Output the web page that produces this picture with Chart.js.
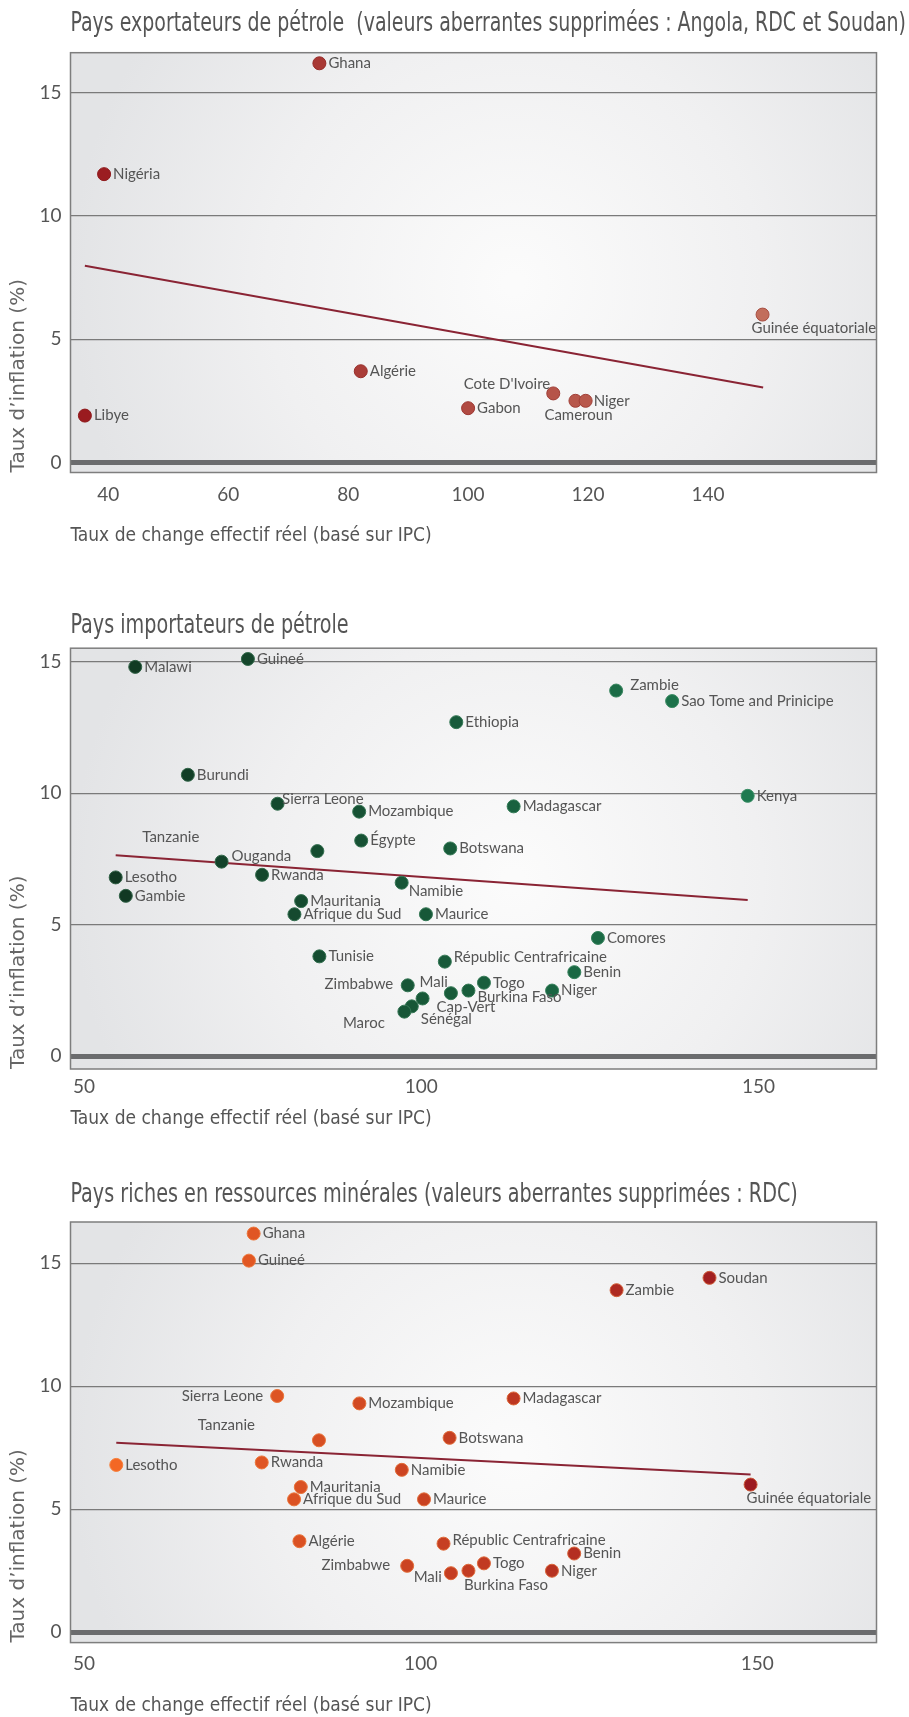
<!DOCTYPE html>
<html>
<head>
<meta charset="utf-8">
<script src="https://cdn.jsdelivr.net/npm/chart.js@4.4.1/dist/chart.umd.min.js"></script>
<style>
html,body{margin:0;padding:0;background:#fff;}
.box{position:absolute;left:0;width:909px;}
</style>
</head>
<body>
<div class="box" style="top:0;height:560px"><canvas id="c1"></canvas></div>
<div class="box" style="top:600px;height:535px"><canvas id="c2"></canvas></div>
<div class="box" style="top:1160px;height:557px"><canvas id="c3"></canvas></div>
<script>
// ---------- DATA ----------
const yTicks = [0, 5, 10, 15];
const xTicks1 = [40, 60, 80, 100, 120, 140];
const xTicks2 = [50, 100, 150];
const xTicks3 = [50, 100, 150];

const titre1 = "Pays exportateurs de pétrole  (valeurs aberrantes supprimées : Angola, RDC et Soudan)";
const titre2 = "Pays importateurs de pétrole";
const titre3 = "Pays riches en ressources minérales (valeurs aberrantes supprimées : RDC)";
const titreX = "Taux de change effectif réel (basé sur IPC)";
const titreY = "Taux d’inflation (%)";

// Chart 1 : exportateurs de pétrole
const pays1 = ["Ghana", "Nigéria", "Libye", "Algérie", "Gabon", "Cote D'Ivoire", "Cameroun", "Niger", "Guinée équatoriale"];
const tcer1 = [75.2, 39.3, 36.1, 82.1, 100.0, 114.2, 117.9, 119.6, 149.1];
const infl1 = [16.2, 11.7, 1.9, 3.7, 2.2, 2.8, 2.5, 2.5, 6.0];
const tendX1 = [36.1, 149.2];
const tendY1 = [7.98, 3.04];

// Chart 2 : importateurs de pétrole
const pays2 = ["Malawi", "Guineé", "Zambie", "Sao Tome and Prinicipe", "Ethiopia", "Burundi", "Kenya",
  "Sierra Leone", "Mozambique", "Madagascar", "Égypte", "Tanzanie", "Botswana", "Ouganda", "Rwanda",
  "Lesotho", "Namibie", "Gambie", "Mauritania", "Afrique du Sud", "Maurice", "Comores", "Tunisie",
  "Républic Centrafricaine", "Benin", "Zimbabwe", "Togo", "Mali", "Burkina Faso", "Niger",
  "Cap-Vert", "Sénégal", "Maroc"];
const tcer2 = [57.6, 74.3, 128.9, 137.2, 105.2, 65.4, 148.4,
  78.7, 90.8, 113.7, 91.1, 84.6, 104.3, 70.4, 76.4,
  54.7, 97.1, 56.2, 82.2, 81.2, 100.7, 126.2, 84.9,
  103.5, 122.7, 98.0, 109.3, 104.4, 107.0, 119.4,
  100.2, 98.6, 97.5];
const infl2 = [14.8, 15.1, 13.9, 13.5, 12.7, 10.7, 9.9,
  9.6, 9.3, 9.5, 8.2, 7.8, 7.9, 7.4, 6.9,
  6.8, 6.6, 6.1, 5.9, 5.4, 5.4, 4.5, 3.8,
  3.6, 3.2, 2.7, 2.8, 2.4, 2.5, 2.5,
  2.2, 1.9, 1.7];
const tendX2 = [54.7, 148.4];
const tendY2 = [7.64, 5.94];

// Chart 3 : riches en ressources minérales
const pays3 = ["Ghana", "Guineé", "Soudan", "Zambie", "Sierra Leone", "Mozambique", "Madagascar",
  "Tanzanie", "Botswana", "Lesotho", "Rwanda", "Namibie", "Guinée équatoriale", "Mauritania",
  "Afrique du Sud", "Maurice", "Algérie", "Républic Centrafricaine", "Benin", "Zimbabwe", "Togo",
  "Mali", "Burkina Faso", "Niger"];
const tcer3 = [75.2, 74.5, 142.9, 129.1, 78.7, 90.9, 113.8,
  84.9, 104.3, 54.8, 76.4, 97.2, 149.0, 82.2,
  81.2, 100.5, 82.0, 103.4, 122.8, 98.0, 109.4,
  104.5, 107.1, 119.5];
const infl3 = [16.2, 15.1, 14.4, 13.9, 9.6, 9.3, 9.5,
  7.8, 7.9, 6.8, 6.9, 6.6, 6.0, 5.9,
  5.4, 5.4, 3.7, 3.6, 3.2, 2.7, 2.8,
  2.4, 2.5, 2.5];
const tendX3 = [54.8, 149.0];
const tendY3 = [7.70, 6.41];

// ---------- STYLE ----------
const NARROW = "'Liberation Sans Narrow', 'DejaVu Sans Condensed', 'Roboto Condensed', sans-serif";
const LABEL_FONT = "15px Lato, 'Open Sans', sans-serif";
const TEXT = '#555555';

// label placements: [textAlign, dx, dy] relative to point
const place1 = {
  "Cote D'Ivoire": ['right', -3, -9],
  "Cameroun": ['center', 3, 14],
  "Niger": ['left', 8, 0],
  "Guinée équatoriale": ['left', -11, 14]
};
const place2 = {
  "Zambie": ['left', 14, -5.5],
  "Sierra Leone": ['left', 4.5, -5],
  "Tanzanie": ['right', -118, -13.5],
  "Ouganda": ['left', 10, -5],
  "Namibie": ['left', 7, 8],
  "Républic Centrafricaine": ['left', 9, -4],
  "Zimbabwe": ['right', -14.5, -1],
  "Mali": ['right', -3, -11],
  "Burkina Faso": ['left', 9, 7],
  "Cap-Vert": ['left', 14, 9],
  "Sénégal": ['left', 9, 13],
  "Maroc": ['right', -19.5, 12]
};
const place3 = {
  "Sierra Leone": ['right', -14, 0],
  "Tanzanie": ['right', -64, -15],
  "Guinée équatoriale": ['left', -4, 13.5],
  "Républic Centrafricaine": ['left', 9, -3.5],
  "Zimbabwe": ['right', -17, -1],
  "Mali": ['right', -9, 4],
  "Burkina Faso": ['left', -4.5, 14.5]
};

function lerpColor(a, b, t) {
  t = Math.max(0, Math.min(1, t));
  return a.map((v, i) => Math.round(v + (b[i] - v) * t));
}
function rgb(c) { return 'rgb(' + c.join(',') + ')'; }
function gradFill(x0, c0, x1, c1) {
  return (ctx) => {
    const x = ctx.raw ? ctx.raw.x : x0;
    return rgb(lerpColor(c0, c1, (x - x0) / (x1 - x0)));
  };
}
function gradBorder(x0, c0, x1, c1, mixTo, amt) {
  return (ctx) => {
    const x = ctx.raw ? ctx.raw.x : x0;
    const c = lerpColor(c0, c1, (x - x0) / (x1 - x0));
    return rgb(lerpColor(c, mixTo, amt));
  };
}

function makeChart(id, o) {
  const points = o.xs.map((x, i) => ({x: x, y: o.ys[i]}));
  const trend = o.tx.map((x, i) => ({x: x, y: o.ty[i]}));

  const bgPlugin = {
    id: 'bg' + id,
    beforeDraw(chart) {
      const a = chart.chartArea, ctx = chart.ctx;
      const cx = a.left + a.width * 0.55, cy = a.top + a.height * 0.55;
      const g = ctx.createRadialGradient(cx, cy, 10, cx, cy, a.width * 0.55);
      g.addColorStop(0, '#fbfbfb');
      g.addColorStop(0.55, '#f0f0f1');
      g.addColorStop(1, '#e3e4e6');
      ctx.save();
      ctx.fillStyle = g;
      ctx.fillRect(a.left, a.top, a.width, a.height);
      ctx.restore();
    },
    afterDraw(chart) {
      const a = chart.chartArea, ctx = chart.ctx;
      ctx.save();
      ctx.strokeStyle = '#7e7e7e';
      ctx.lineWidth = 1.5;
      ctx.strokeRect(a.left, a.top, a.width, a.height);
      // condensed chart title
      ctx.font = '26px ' + NARROW;
      ctx.fillStyle = TEXT;
      ctx.textBaseline = 'middle';
      ctx.textAlign = 'left';
      const w = ctx.measureText(o.title).width;
      const sx = Math.min(0.82, (chart.width - a.left - 3) / w);
      ctx.translate(a.left, o.titleY);
      ctx.scale(sx, 1);
      ctx.fillText(o.title, 0, 0);
      ctx.restore();
    }
  };
  const labelPlugin = {
    id: 'lbl' + id,
    afterDatasetsDraw(chart) {
      const meta = chart.getDatasetMeta(1);
      const ctx = chart.ctx;
      ctx.save();
      ctx.font = LABEL_FONT;
      ctx.fillStyle = TEXT;
      ctx.textBaseline = 'middle';
      meta.data.forEach((el, i) => {
        const name = o.names[i];
        const p = o.place[name] || ['left', 9, 0];
        ctx.textAlign = p[0];
        ctx.fillText(name, el.x + p[1], el.y + p[2]);
      });
      ctx.restore();
    }
  };

  return new Chart(document.getElementById(id), {
    type: 'scatter',
    data: {
      datasets: [
        {
          label: 'tendance',
          data: trend,
          showLine: true,
          borderColor: '#8a2434',
          borderWidth: 2,
          pointRadius: 0,
          order: 2
        },
        {
          label: 'pays',
          data: points,
          pointRadius: 6.5,
          pointHoverRadius: 6.5,
          borderWidth: 1,
          backgroundColor: o.fill,
          borderColor: o.border,
          order: 1
        }
      ]
    },
    options: {
      responsive: true,
      maintainAspectRatio: false,
      animation: false,
      events: [],
      layout: {padding: {left: 0, right: 32.5, top: o.plotTop, bottom: 0}},
      plugins: {
        legend: {display: false},
        tooltip: {enabled: false},
        title: {display: false}
      },
      scales: {
        x: {
          type: 'linear',
          min: o.xmin, max: o.xmax,
          afterBuildTicks: (ax) => { ax.ticks = o.xTicks.map(v => ({value: v})); },
          afterFit: (ax) => { ax.height = o.xAxisH; },
          grid: {display: false, drawTicks: false},
          border: {display: false},
          ticks: {
            color: TEXT, padding: o.xTickPad,
            font: {family: "Lato, 'Open Sans', sans-serif", size: 19},
            maxRotation: 0, autoSkip: false
          },
          title: {
            display: true, text: titreX, align: 'start', color: TEXT,
            font: {family: NARROW, size: 19, lineHeight: 1.2},
            padding: {top: 0, bottom: o.xTitlePad}
          }
        },
        y: {
          type: 'linear',
          min: o.ymin, max: o.ymax,
          afterBuildTicks: (ax) => { ax.ticks = yTicks.map(v => ({value: v})); },
          afterFit: (ax) => { ax.width = 70.5; },
          grid: {
            drawTicks: false,
            color: (c) => (c.tick && c.tick.value === 0) ? '#6b6c6e' : '#7a7a7a',
            lineWidth: (c) => (c.tick && c.tick.value === 0) ? 5 : 1.2
          },
          border: {display: false},
          ticks: {
            color: TEXT, padding: 9,
            font: {family: "Lato, 'Open Sans', sans-serif", size: 19}
          },
          title: {
            display: true, text: titreY, align: 'start', color: '#666666',
            font: {family: "'DejaVu Sans', Verdana, sans-serif", size: 20, lineHeight: 1.2},
            padding: {top: 7, bottom: 0}
          }
        }
      }
    },
    plugins: [bgPlugin, labelPlugin]
  });
}

makeChart('c1', {
  names: pays1, xs: tcer1, ys: infl1, tx: tendX1, ty: tendY1,
  title: titre1, xTicks: xTicks1, place: place1,
  xmin: 33.7, xmax: 168.1, ymin: -0.41, ymax: 16.63,
  plotTop: 52.7, titleY: 24, xAxisH: 87.5, xTickPad: 11, xTitlePad: 12.4,
  fill: gradFill(36, [154, 27, 31], 149, [194, 110, 92]),
  border: gradBorder(36, [154, 27, 31], 149, [194, 110, 92], [120, 20, 20], 0.35)
});
makeChart('c2', {
  names: pays2, xs: tcer2, ys: infl2, tx: tendX2, ty: tendY2,
  title: titre2, xTicks: xTicks2, place: place2,
  xmin: 48.0, xmax: 167.5, ymin: -0.48, ymax: 15.51,
  plotTop: 48.2, titleY: 26.5, xAxisH: 66, xTickPad: 6.6, xTitlePad: 4.4,
  fill: gradFill(55, [17, 56, 34], 149, [30, 122, 80]),
  border: gradBorder(55, [17, 56, 34], 149, [30, 122, 80], [120, 190, 150], 0.3)
});
makeChart('c3', {
  names: pays3, xs: tcer3, ys: infl3, tx: tendX3, ty: tendY3,
  title: titre3, xTicks: xTicks3, place: place3,
  xmin: 48.0, xmax: 167.7, ymin: -0.42, ymax: 16.67,
  plotTop: 62, titleY: 35.5, xAxisH: 74.4, xTickPad: 9.5, xTitlePad: 0,
  fill: gradFill(55, [243, 103, 36], 149, [156, 26, 32]),
  border: gradBorder(55, [243, 103, 36], 149, [156, 26, 32], [250, 150, 80], 0.5)
});
</script>
</body>
</html>
